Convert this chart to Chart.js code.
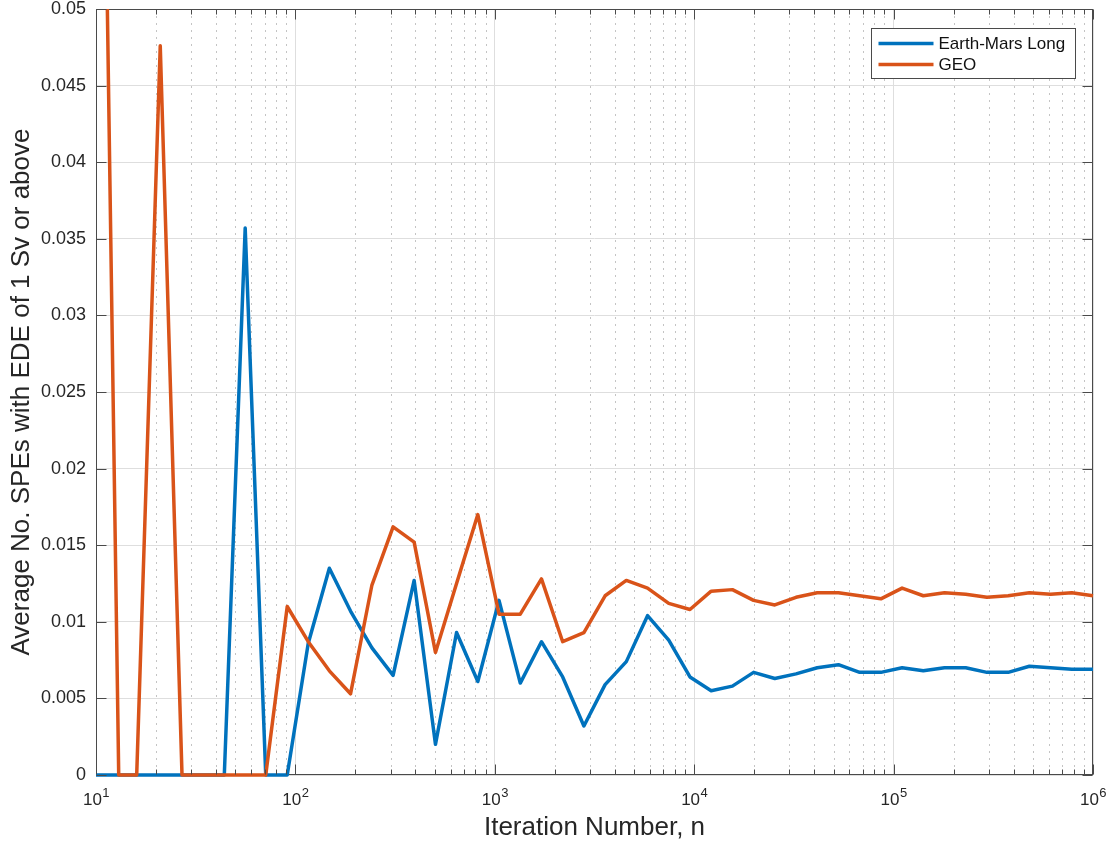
<!DOCTYPE html>
<html>
<head>
<meta charset="utf-8">
<title>Average No. SPEs with EDE of 1 Sv or above</title>
<script src="https://cdn.jsdelivr.net/npm/chart.js@4.4.1/dist/chart.umd.min.js"></script>
<style>
  html, body { margin: 0; padding: 0; background: #ffffff; }
  #wrap { width: 1113px; height: 846px; }
  canvas { display: block; }
</style>
</head>
<body>
<div id="wrap"><canvas id="chart" width="1113" height="846"></canvas></div>
<script>
// Iteration counts (log-spaced sample sizes)
const iterations = [
  10, 13, 16, 21, 27, 34, 44, 56, 71, 91,
  116, 148, 189, 242, 309, 394, 504, 643, 822, 1050,
  1342, 1714, 2190, 2798, 3574, 4566, 5834, 7453, 9522, 12165,
  15541, 19855, 25366, 32407, 41402, 52894, 67575, 86332, 110295, 140908,
  180019, 229987, 293822, 375377, 479568, 612680, 782736, 1000000
];

// Average number of SPEs with EDE >= 1 Sv, Earth-Mars long mission
const earthMarsLong = [
  0, 0, 0, 0, 0, 0, 0, 0.0357, 0, 0,
  0.0086, 0.0135, 0.0107, 0.0083, 0.0065, 0.0127, 0.0020, 0.0093, 0.0061, 0.0114,
  0.0060, 0.0087, 0.0064, 0.0032, 0.0059, 0.0074, 0.0104, 0.0088, 0.0064, 0.0055,
  0.0058, 0.0067, 0.0063, 0.0066, 0.0070, 0.0072, 0.0067, 0.0067, 0.0070, 0.0068,
  0.0070, 0.0070, 0.0067, 0.0067, 0.0071, 0.0070, 0.0069, 0.0069
];

// Average number of SPEs with EDE >= 1 Sv, GEO
const geo = [
  0.1, 0, 0, 0.0476, 0, 0, 0, 0, 0, 0.0110,
  0.0087, 0.0068, 0.0053, 0.0124, 0.0162, 0.0152, 0.0080, 0.0125, 0.0170, 0.0105,
  0.0105, 0.0128, 0.0087, 0.0093, 0.0117, 0.0127, 0.0122, 0.0112, 0.0108, 0.0120,
  0.0121, 0.0114, 0.0111, 0.0116, 0.0119, 0.0119, 0.0117, 0.0115, 0.0122, 0.0117,
  0.0119, 0.0118, 0.0116, 0.0117, 0.0119, 0.0118, 0.0119, 0.0117
];

// Axis ticks
const xDecades = [10, 100, 1000, 10000, 100000, 1000000];
const xDecadeBase = '10';
const xDecadeExponents = ['1', '2', '3', '4', '5', '6'];
const yTicks = [0, 0.005, 0.01, 0.015, 0.02, 0.025, 0.03, 0.035, 0.04, 0.045, 0.05];
const yTickLabels = ['0', '0.005', '0.01', '0.015', '0.02', '0.025', '0.03', '0.035', '0.04', '0.045', '0.05'];

// Minor log positions (2..9 within each decade)
const xMinor = [];
xDecades.slice(0, -1).forEach(d => { for (let m = 2; m <= 9; m++) xMinor.push(m * d); });

const FONT = '"Liberation Sans", Arial, Helvetica, sans-serif';
const TEXT = '#262626';
const AXIS = '#4a4a4a';
const MAJOR_GRID = '#dedede';
const MINOR_GRID = '#c4c4c4';
const BLUE = '#0072BD';
const ORANGE = '#D95319';

Chart.defaults.font.family = FONT;
Chart.defaults.color = TEXT;

// Box, inward tick marks, dotted minor grid, superscript decade labels and boxed legend
const matlabAxes = {
  id: 'matlabAxes',
  beforeDatasetsDraw(chart) {
    const { ctx, chartArea: a, scales: { x } } = chart;
    ctx.save();
    // dotted minor grid
    ctx.strokeStyle = MINOR_GRID;
    ctx.lineWidth = 1;
    ctx.setLineDash([2, 5]);
    xMinor.forEach(v => {
      const px = Math.round(x.getPixelForValue(v)) + 0.5;
      ctx.beginPath();
      ctx.moveTo(px, a.top);
      ctx.lineTo(px, a.bottom);
      ctx.stroke();
    });
    ctx.setLineDash([]);

    // axes box
    ctx.strokeStyle = AXIS;
    ctx.lineWidth = 1;
    const L = Math.round(a.left) + 0.5, R = Math.round(a.right) - 0.5;
    const T = Math.round(a.top) + 0.5, B = Math.round(a.bottom) - 0.5;
    ctx.strokeRect(L, T, R - L, B - T);

    // decade labels with superscript exponents
    ctx.fillStyle = TEXT;
    ctx.textBaseline = 'alphabetic';
    ctx.textAlign = 'left';
    xDecades.forEach((v, i) => {
      const px = x.getPixelForValue(v);
      ctx.font = '17px ' + FONT;
      const wBase = ctx.measureText(xDecadeBase).width;
      ctx.font = '13px ' + FONT;
      const wExp = ctx.measureText(xDecadeExponents[i]).width;
      const x0 = px - (wBase + wExp) / 2;
      ctx.font = '17px ' + FONT;
      ctx.fillText(xDecadeBase, x0, a.bottom + 30);
      ctx.font = '13px ' + FONT;
      ctx.fillText(xDecadeExponents[i], x0 + wBase + 0.5, a.bottom + 22);
    });
    ctx.restore();
  },
  afterDatasetsDraw(chart) {
    const { ctx, chartArea: a, scales: { x, y } } = chart;
    ctx.save();
    ctx.strokeStyle = AXIS;
    ctx.lineWidth = 1;
    const L = Math.round(a.left) + 0.5, R = Math.round(a.right) - 0.5;
    const T = Math.round(a.top) + 0.5, B = Math.round(a.bottom) - 0.5;
    ctx.beginPath();
    // inward ticks: x (bottom and top)
    xDecades.forEach(v => {
      const px = Math.round(x.getPixelForValue(v)) + 0.5;
      ctx.moveTo(px, B); ctx.lineTo(px, B - 10);
      ctx.moveTo(px, T); ctx.lineTo(px, T + 10);
    });
    xMinor.forEach(v => {
      const px = Math.round(x.getPixelForValue(v)) + 0.5;
      ctx.moveTo(px, B); ctx.lineTo(px, B - 5);
      ctx.moveTo(px, T); ctx.lineTo(px, T + 5);
    });
    // inward ticks: y (left and right)
    yTicks.forEach(v => {
      const py = Math.round(y.getPixelForValue(v)) + 0.5;
      ctx.moveTo(L, py); ctx.lineTo(L + 10, py);
      ctx.moveTo(R, py); ctx.lineTo(R - 10, py);
    });
    ctx.stroke();
    ctx.restore();
  },
  afterDraw(chart) {
    const { ctx, chartArea: a } = chart;
    const sets = chart.data.datasets;
    ctx.save();
    const boxW = 204, boxH = 50;
    const bx = Math.round(a.right - 18 - boxW) + 0.5;
    const by = Math.round(a.top + 19) + 0.5;
    ctx.fillStyle = '#ffffff';
    ctx.fillRect(bx, by, boxW, boxH);
    ctx.strokeStyle = AXIS;
    ctx.lineWidth = 1;
    ctx.strokeRect(bx, by, boxW, boxH);
    ctx.font = '17px ' + FONT;
    ctx.textBaseline = 'middle';
    ctx.textAlign = 'left';
    sets.forEach((ds, i) => {
      const ly = by + 15 + i * 21;
      ctx.strokeStyle = ds.borderColor;
      ctx.lineWidth = 3.5;
      ctx.beginPath();
      ctx.moveTo(bx + 7, ly);
      ctx.lineTo(bx + 62, ly);
      ctx.stroke();
      ctx.fillStyle = '#111111';
      ctx.fillText(ds.label, bx + 67, ly + 1);
    });
    ctx.restore();
  }
};

const toPoints = series => iterations.map((n, i) => ({ x: n, y: series[i] }));
const lineClip = { left: 0, top: 0, right: 2, bottom: 3 };

new Chart(document.getElementById('chart'), {
  type: 'line',
  data: {
    datasets: [
      {
        label: 'Earth-Mars Long',
        data: toPoints(earthMarsLong),
        borderColor: BLUE,
        backgroundColor: BLUE,
        borderWidth: 3.5,
        pointRadius: 0,
        tension: 0,
        borderJoinStyle: 'round',
        clip: lineClip,
        order: 2
      },
      {
        label: 'GEO',
        data: toPoints(geo),
        borderColor: ORANGE,
        backgroundColor: ORANGE,
        borderWidth: 3.5,
        pointRadius: 0,
        tension: 0,
        borderJoinStyle: 'round',
        clip: lineClip,
        order: 1
      }
    ]
  },
  options: {
    responsive: false,
    animation: false,
    devicePixelRatio: 1,
    layout: { padding: { top: 9, right: 20, bottom: 0, left: 0 } },
    plugins: {
      legend: { display: false },
      tooltip: { enabled: false }
    },
    scales: {
      x: {
        type: 'logarithmic',
        min: 10,
        max: 1000000,
        afterBuildTicks: s => { s.ticks = xDecades.map(v => ({ value: v, major: true })); },
        ticks: { display: false },
        grid: { color: MAJOR_GRID, lineWidth: 1, drawTicks: false },
        border: { display: false },
        title: {
          display: true,
          text: 'Iteration Number, n',
          color: TEXT,
          font: { size: 26 },
          padding: { top: 0, bottom: 3 }
        },
        afterFit: s => { s.height = 71; s.paddingLeft = 0; s.paddingRight = 0; }
      },
      y: {
        type: 'linear',
        min: 0,
        max: 0.05,
        afterBuildTicks: s => { s.ticks = yTicks.map(v => ({ value: v })); },
        ticks: {
          callback: (v, i) => yTickLabels[i],
          padding: 10,
          color: TEXT,
          font: { size: 18 }
        },
        grid: { color: MAJOR_GRID, lineWidth: 1, drawTicks: false },
        border: { display: false },
        title: {
          display: true,
          text: 'Average No. SPEs with EDE of 1 Sv or above',
          color: TEXT,
          font: { size: 26 },
          padding: { top: 6, bottom: 0 }
        },
        afterFit: s => { s.width = 96; s.paddingTop = 0; s.paddingBottom = 0; }
      }
    }
  },
  plugins: [matlabAxes]
});
</script>
</body>
</html>
